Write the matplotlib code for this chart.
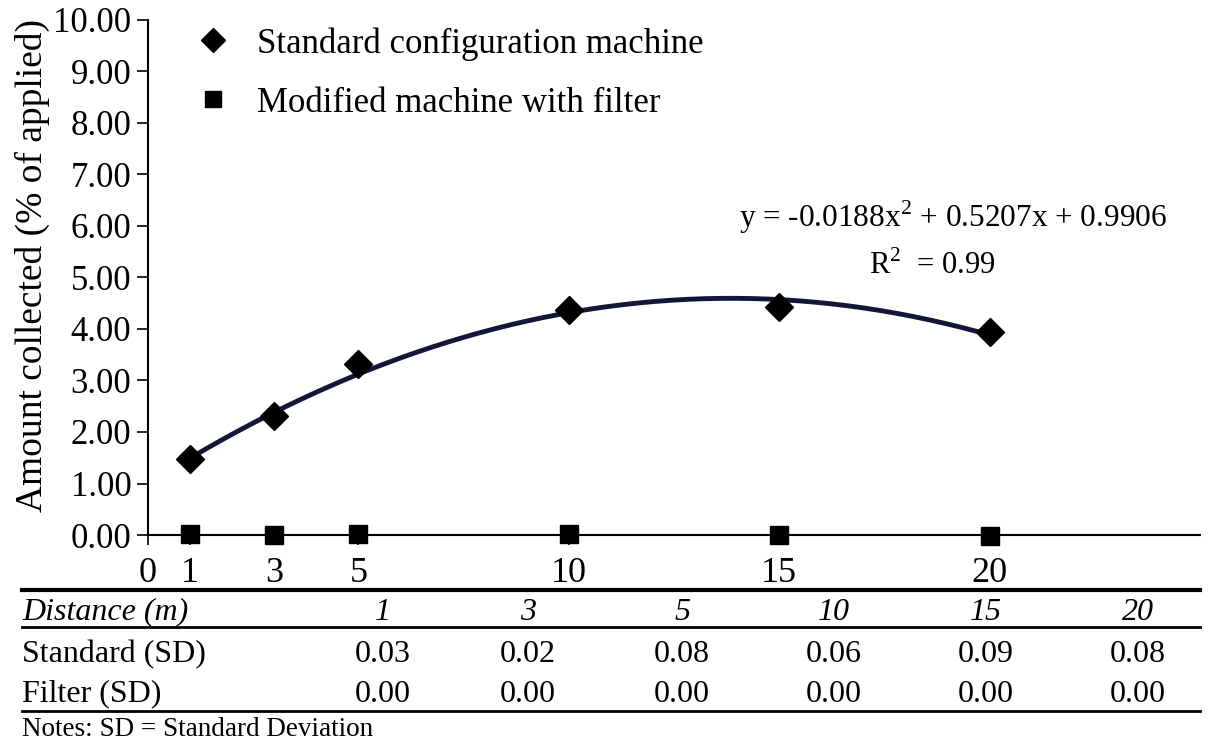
import matplotlib
matplotlib.use("Agg")
import matplotlib.pyplot as plt
import numpy as np
from matplotlib.lines import Line2D

plt.rcParams['font.family'] = ['Liberation Serif', 'DejaVu Serif']
plt.rcParams['mathtext.fontset'] = 'custom'
plt.rcParams['mathtext.rm'] = 'Liberation Serif'

# ---- data ----
distance = [1, 3, 5, 10, 15, 20]
standard = [1.47, 2.32, 3.32, 4.36, 4.42, 3.94]
filtered = [0.02, 0.00, 0.02, 0.02, 0.00, -0.02]
fit_coef = [-0.0188, 0.5207, 0.9906]
xtick_vals = [0, 1, 3, 5, 10, 15, 20]
ytick_vals = [0, 1, 2, 3, 4, 5, 6, 7, 8, 9, 10]
table_header = ["1", "3", "5", "10", "15", "20"]
standard_sd = ["0.03", "0.02", "0.08", "0.06", "0.09", "0.08"]
filter_sd = ["0.00", "0.00", "0.00", "0.00", "0.00", "0.00"]
row_labels = ["Distance (m)", "Standard (SD)", "Filter (SD)"]
series_labels = ["Standard configuration machine", "Modified machine with filter"]

W, H = 1214, 742
fig = plt.figure(figsize=(W / 100, H / 100), dpi=100)
ax = fig.add_axes([148 / W, 1 - 535 / H, (1200 - 148) / W, (535 - 20) / H])
ax.set_xlim(0, 25)
ax.set_ylim(0, 10)

# trend line
xs = np.linspace(1, 20, 200)
ys = np.polyval(fit_coef, xs)
ax.plot(xs, ys, color='#15153a', lw=3.5, zorder=2)

ax.plot(distance, standard, linestyle='none', marker='D', ms=14, color='black',
        label=series_labels[0], zorder=3)
ax.plot(distance, filtered, linestyle='none', marker='s', ms=13, color='black',
        label=series_labels[1], zorder=3, clip_on=False)

for s in ['top', 'right']:
    ax.spines[s].set_visible(False)
for s in ['left', 'bottom']:
    ax.spines[s].set_linewidth(1.5)

ax.set_yticks(ytick_vals)
ax.set_yticklabels([f"{v:.2f}" for v in ytick_vals], fontsize=25)
ax.set_xticks(xtick_vals)
ax.set_xticklabels([str(v) for v in xtick_vals], fontsize=26)
ax.tick_params(axis='y', direction='out', length=8, width=1.2, pad=4)
ax.tick_params(axis='x', direction='out', length=7, width=1.2, pad=9)
ax.set_ylabel("Amount collected (% of applied)", fontsize=27)
ax.yaxis.set_label_coords(-0.093, 0.524)

leg = ax.legend(loc='upper left', bbox_to_anchor=(0.016, 1.047), frameon=False,
                fontsize=25, handletextpad=0.75, labelspacing=0.75, handlelength=1.0,
                markerscale=0.85)

ax.text(0.765, 0.617, r"y = -0.0188x$^{2}$ + 0.5207x + 0.9906", transform=ax.transAxes,
        ha='center', va='center', fontsize=22.5)
ax.text(0.745, 0.523, r"R$^{2}$  = 0.99", transform=ax.transAxes,
        ha='center', va='center', fontsize=22)

# ---- table below ----
def fy(py):
    return 1 - py / H

def fx(px):
    return px / W

x0, x1 = 22, 1200
fig.add_artist(Line2D([fx(x0), fx(x1)], [fy(590), fy(590)], color='black', lw=3))
fig.add_artist(Line2D([fx(x0), fx(x1)], [fy(627), fy(627)], color='black', lw=2))
fig.add_artist(Line2D([fx(x0), fx(x1)], [fy(711), fy(711)], color='black', lw=2))

col_x = [383, 528, 682, 834, 986, 1138]
row_y = [612, 655, 694]
tfs = 23

fig.text(fx(x0), fy(row_y[0]), row_labels[0], ha='left', va='center', fontsize=tfs, style='italic')
fig.text(fx(x0), fy(row_y[1]), row_labels[1], ha='left', va='center', fontsize=tfs)
fig.text(fx(x0), fy(row_y[2]), row_labels[2], ha='left', va='center', fontsize=tfs)
for cx, h, s, f in zip(col_x, table_header, standard_sd, filter_sd):
    fig.text(fx(cx), fy(row_y[0]), h, ha='center', va='center', fontsize=tfs, style='italic')
    fig.text(fx(cx), fy(row_y[1]), s, ha='center', va='center', fontsize=tfs)
    fig.text(fx(cx), fy(row_y[2]), f, ha='center', va='center', fontsize=tfs)

fig.text(fx(x0), fy(729), "Notes: SD = Standard Deviation", ha='left', va='center', fontsize=19.5)

fig.savefig("out.png", dpi=100)
